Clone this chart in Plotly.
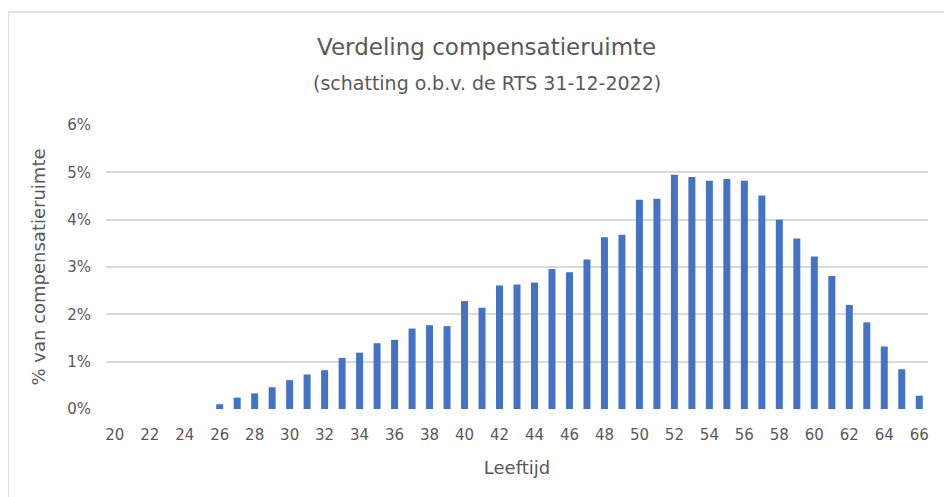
import plotly.graph_objects as go

# Leeftijd 20 t/m 66
ages = list(range(20, 67))
# aandeel compensatieruimte in %
share = [
    0, 0, 0, 0, 0, 0,                      # 20-25
    0.10, 0.24, 0.33, 0.46, 0.61,          # 26-30
    0.73, 0.82, 1.08, 1.19, 1.39,          # 31-35
    1.46, 1.70, 1.77, 1.75, 2.28,          # 36-40
    2.14, 2.61, 2.63, 2.67, 2.96,          # 41-45
    2.89, 3.16, 3.63, 3.68, 4.42,          # 46-50
    4.44, 4.95, 4.90, 4.82, 4.86,          # 51-55
    4.82, 4.51, 4.00, 3.60, 3.22,          # 56-60
    2.81, 2.20, 1.83, 1.32, 0.84,          # 61-65
    0.28,                                  # 66
]
y_ticks = [0, 1, 2, 3, 4, 5, 6]

font = "DejaVu Sans, sans-serif"
grey_text = "#595959"
grid = "#d9d9d9"

fig = go.Figure()
fig.add_trace(go.Bar(
    x=ages,
    y=share,
    marker_color="#4472C4",
    marker_line_width=0,
    hovertemplate="Leeftijd %{x}<br>%{y:.2f}%<extra></extra>",
))

# frame around the chart (Excel-like chart border)
fig.add_shape(
    type="rect", xref="paper", yref="paper",
    x0=-0.1192, x1=1.06, y0=-0.42, y1=1.398,
    line=dict(color=grid, width=1.5), fillcolor="rgba(0,0,0,0)",
    layer="below",
)

fig.add_annotation(
    text="Verdeling compensatieruimte",
    xref="paper", yref="paper", x=0.4635, y=1.273,
    xanchor="center", yanchor="middle", showarrow=False,
    font=dict(family=font, size=23, color=grey_text),
)
fig.add_annotation(
    text="(schatting o.b.v. de RTS 31-12-2022)",
    xref="paper", yref="paper", x=0.4635, y=1.148,
    xanchor="center", yanchor="middle", showarrow=False,
    font=dict(family=font, size=19, color=grey_text),
)

# the page body adds an 8px offset, so margins are trimmed by 8 on top/left
fig.update_layout(
    width=952,
    height=497,
    margin=dict(l=98, r=32, t=117, b=96, autoexpand=False),
    plot_bgcolor="white",
    paper_bgcolor="white",
    bargap=0.6,
    showlegend=False,
    font=dict(family=font, color=grey_text),
)

fig.update_xaxes(
    range=[19.5, 66.5],
    tickmode="array",
    tickvals=ages[::2],
    ticktext=[str(a) for a in ages[::2]],
    showgrid=False,
    zeroline=False,
    showline=False,
    ticks="",
    ticklabelstandoff=15,
    tickfont=dict(size=15, color=grey_text),
    title=dict(text="Leeftijd", font=dict(size=18, color=grey_text), standoff=18),
)

fig.update_yaxes(
    range=[0, 6],
    tickmode="array",
    tickvals=y_ticks,
    ticktext=[f"{v}%" for v in y_ticks],
    showgrid=True,
    gridcolor=grid,
    gridwidth=1.5,
    zeroline=False,
    showline=False,
    ticks="",
    ticklabelstandoff=14,
    tickfont=dict(size=15, color=grey_text),
    title=dict(text="% van compensatieruimte", font=dict(size=18, color=grey_text), standoff=16),
)

fig.write_html("out.html")
